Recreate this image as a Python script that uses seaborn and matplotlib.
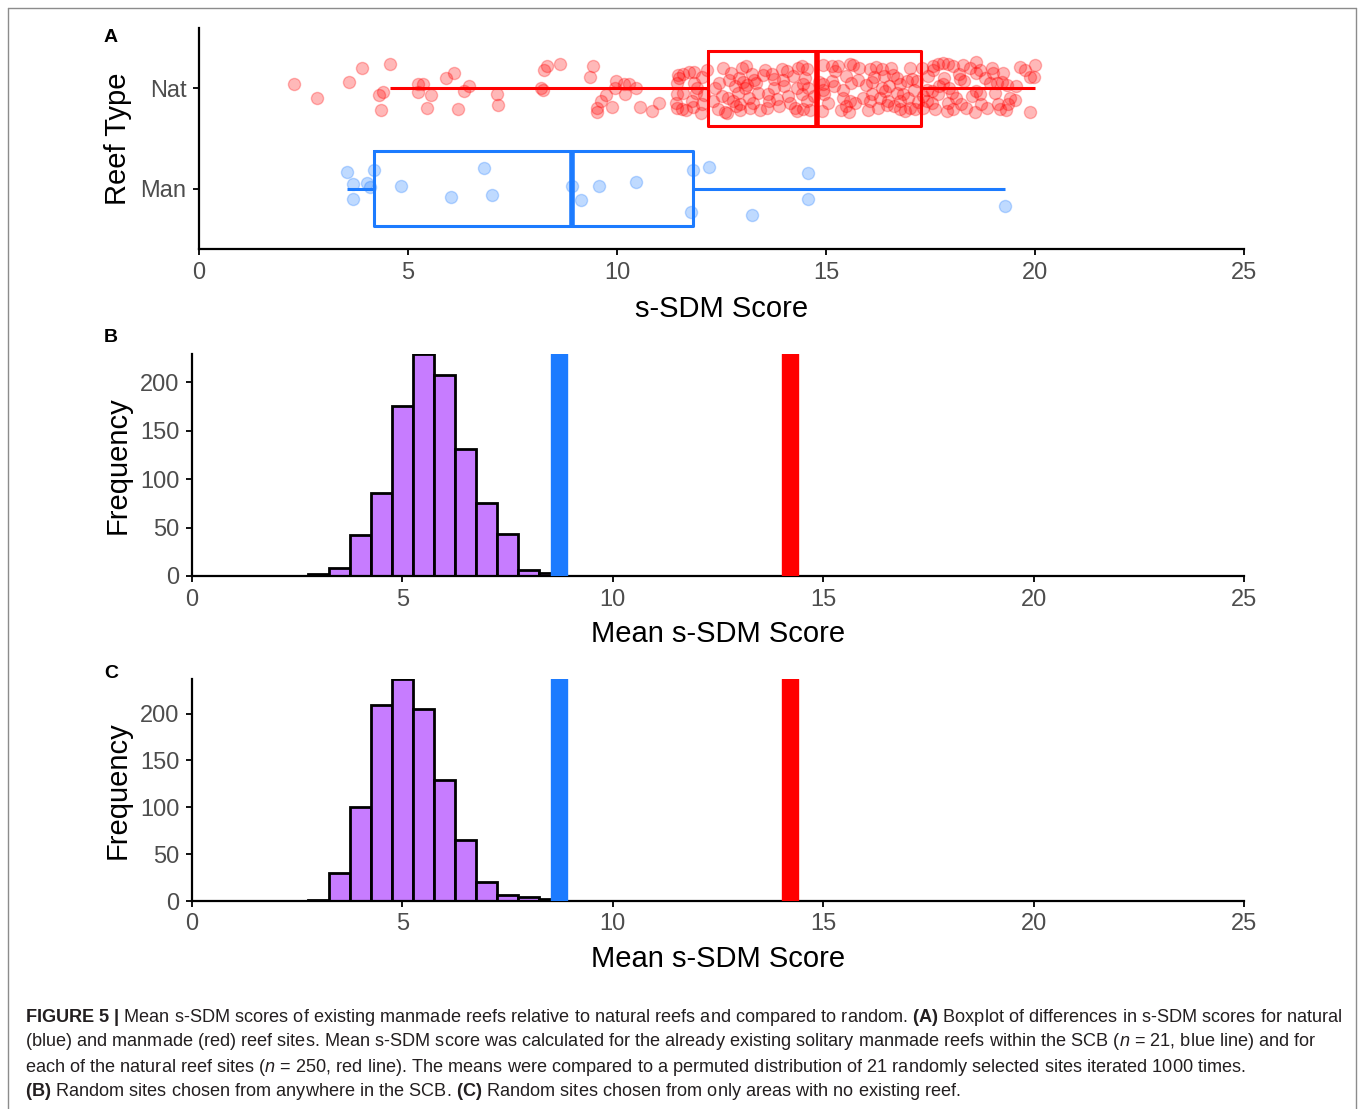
import numpy as np
import pandas as pd
import matplotlib
matplotlib.use("Agg")
import matplotlib.pyplot as plt
import seaborn as sns
from matplotlib.lines import Line2D

# ---------------- data ----------------
# Panel A: manmade reefs (n = 21): s-SDM score and vertical jitter offset
man_scores = [3.55, 4.19, 3.68, 4.02, 4.09, 3.68, 4.84, 6.81, 6.02, 7.00, 8.93,
              9.13, 9.56, 10.46, 11.82, 12.20, 11.76, 13.23, 14.58, 14.57, 19.29]
man_jitter = [-0.17, -0.19, -0.05, -0.06, -0.02, 0.10, -0.03, -0.21, 0.08, 0.06, -0.03,
              0.11, -0.03, -0.07, -0.19, -0.22, 0.23, 0.26, -0.16, 0.10, 0.17]

# Panel A: natural reefs (n = 250): (score, jitter offset)
nat_points_low = [
    (2.27, -0.04), (2.83, 0.10), (3.59, -0.06), (3.91, -0.20), (4.58, -0.24), (4.40, 0.04),
    (4.30, 0.07), (4.35, 0.22), (5.23, -0.04), (5.37, -0.04), (5.25, 0.04), (5.55, 0.07),
    (5.45, 0.20), (5.91, -0.10), (6.11, -0.15), (6.47, -0.02), (6.35, 0.03), (6.20, 0.21),
    (7.14, 0.06), (7.16, 0.17), (8.18, 0.00), (8.22, 0.02), (8.26, -0.18), (8.33, -0.22),
    (8.64, -0.24), (9.42, -0.22), (9.35, -0.11), (9.98, -0.07), (9.95, 0.00), (9.74, 0.07),
    (9.62, 0.13), (9.51, 0.20), (9.53, 0.24), (9.87, 0.19), (10.17, -0.04), (10.29, -0.04),
    (10.20, 0.06), (10.45, 0.00), (10.56, 0.19), (10.83, 0.23), (11.01, 0.15), (11.43, -0.05),
    (11.43, 0.06), (11.47, -0.13), (11.41, 0.15), (11.44, 0.20), (11.59, -0.14), (11.73, -0.16),
    (11.84, -0.16), (12.04, -0.11), (11.84, -0.05), (11.91, 0.00), (11.59, 0.05), (11.89, 0.05),
    (12.07, 0.07), (11.79, 0.13), (12.03, 0.16), (11.55, 0.21), (11.65, 0.22), (11.83, 0.19),
    (12.00, 0.25), (11.48, -0.10),
]
nat_points_q2 = [
    (12.54, -0.20), (13.09, -0.22), (12.67, -0.08), (12.93, -0.10), (13.01, -0.06), (13.22, -0.14),
    (13.49, -0.13), (13.70, -0.14), (13.94, -0.19), (14.06, -0.17), (13.76, -0.09), (13.98, -0.08),
    (13.33, -0.05), (12.34, 0.00), (12.82, -0.02), (13.10, -0.03), (12.90, 0.05), (12.66, 0.10),
    (12.30, 0.13), (12.78, 0.13), (12.94, 0.16), (13.26, 0.15), (13.62, 0.06), (13.64, 0.13),
    (13.82, 0.11), (14.14, 0.15), (12.42, 0.21), (12.58, 0.24), (12.62, 0.25), (12.94, 0.22),
    (13.18, 0.20), (13.42, 0.22), (13.06, 0.00), (14.34, -0.20), (14.30, 0.00), (14.31, 0.23),
    (14.42, -0.22), (14.54, -0.19), (14.46, -0.04), (14.58, 0.00), (14.42, 0.06), (14.55, 0.13),
    (14.46, 0.21), (14.62, 0.22), (12.15, -0.18), (12.45, -0.05), (12.50, 0.08), (12.72, -0.15),
    (12.85, 0.18), (13.00, -0.20), (13.15, 0.10), (13.28, -0.08), (13.38, 0.05), (13.55, -0.18),
    (13.60, 0.20), (13.75, 0.00), (13.88, 0.18), (14.00, -0.02), (14.10, 0.08), (14.20, -0.12),
    (14.25, 0.20), (14.50, -0.10), (14.72, 0.08),
]
nat_points_q3 = [
    (14.92, -0.23), (15.14, -0.22), (15.29, -0.22), (15.22, -0.17), (15.57, -0.24), (15.65, -0.23),
    (15.49, -0.12), (15.14, -0.07), (14.92, -0.04), (14.84, -0.06), (15.61, -0.05), (15.77, -0.08),
    (16.05, -0.19), (16.20, -0.21), (16.33, -0.19), (16.15, -0.11), (16.39, -0.12), (16.60, -0.13),
    (16.33, 0.00), (16.51, -0.02), (16.77, -0.04), (16.93, -0.07), (17.05, -0.09), (17.17, -0.07),
    (15.41, 0.02), (15.40, 0.10), (15.57, 0.13), (15.49, 0.18), (15.56, 0.24), (15.88, 0.10),
    (16.05, 0.13), (16.09, 0.06), (16.29, 0.10), (16.49, 0.13), (16.25, 0.20), (16.47, 0.17),
    (16.69, 0.05), (16.85, 0.06), (16.77, 0.21), (17.01, 0.20), (17.13, 0.21), (16.77, 0.13),
    (16.97, 0.10), (14.95, 0.06), (14.90, 0.23), (14.93, 0.02), (15.05, 0.15), (15.20, -0.02),
    (15.35, 0.22), (15.70, 0.15), (15.80, -0.20), (15.95, -0.03), (16.00, 0.22), (16.10, -0.06),
    (16.40, 0.03), (16.55, -0.20), (16.62, 0.18), (16.70, -0.10), (16.90, 0.23), (17.00, -0.20),
    (17.10, 0.02), (17.20, 0.14),
]
nat_points_high = [
    (17.57, -0.22), (17.69, -0.24), (17.79, -0.25), (17.93, -0.24), (18.05, -0.22), (18.27, -0.23),
    (18.60, -0.26), (18.96, -0.20), (19.24, -0.15), (19.64, -0.21), (20.00, -0.23), (17.57, -0.18),
    (18.19, -0.14), (18.29, -0.07), (18.60, -0.15), (18.68, -0.18), (17.82, -0.10), (17.81, -0.04),
    (18.21, -0.09), (18.92, -0.05), (19.08, -0.05), (19.20, -0.06), (19.34, -0.03), (19.88, -0.11),
    (19.98, -0.11), (17.41, 0.02), (17.53, 0.03), (17.33, 0.08), (17.69, 0.06), (18.01, 0.05),
    (18.59, 0.03), (18.68, 0.06), (19.04, 0.05), (19.40, 0.10), (19.52, 0.12), (19.36, 0.16),
    (17.53, 0.15), (17.41, 0.13), (17.93, 0.15), (17.89, 0.23), (18.05, 0.21), (18.22, 0.16),
    (18.72, 0.16), (18.56, 0.24), (19.12, 0.16), (19.16, 0.21), (19.88, 0.24), (17.33, 0.20),
    (17.61, 0.21), (17.30, -0.20), (17.45, -0.12), (17.70, -0.02), (17.95, 0.00), (18.10, 0.10),
    (18.35, 0.20), (18.45, -0.20), (18.50, 0.08), (18.80, -0.10), (18.85, 0.20), (19.00, -0.15),
    (19.30, 0.22), (19.55, -0.02), (19.75, -0.18),
]
nat_points = nat_points_low + nat_points_q2 + nat_points_q3 + nat_points_high
nat_scores = [p[0] for p in nat_points]
nat_jitter = [p[1] for p in nat_points]

reef_types = ["Nat", "Man"]

# Panels B and C: permutation histograms (bin centres, bin width 0.5)
hist_bin_centers = [3.0, 3.5, 4.0, 4.5, 5.0, 5.5, 6.0, 6.5, 7.0, 7.5, 8.0, 8.5]
hist_b_counts = [2, 8, 42, 86, 175, 229, 207, 131, 75, 43, 6, 3]
hist_c_counts = [1, 30, 100, 209, 237, 205, 129, 65, 20, 6, 4, 2]
man_mean = 8.73
nat_mean = 14.22

x_ticks = [0, 5, 10, 15, 20, 25]
freq_ticks = [0, 50, 100, 150, 200]

# ---------------- style ----------------
RED = "#FF0000"
BLUE = "#1C7BFF"
PURPLE = "#C77CFF"
TICK_GRAY = "#4D4D4D"

sns.set_theme(style="white")
plt.rcParams["font.family"] = ["Liberation Sans", "DejaVu Sans"]
plt.rcParams["mathtext.fontset"] = "custom"
plt.rcParams["mathtext.rm"] = "Liberation Sans"
plt.rcParams["mathtext.it"] = "Liberation Sans:italic"
plt.rcParams["mathtext.bf"] = "Liberation Sans:bold"

W, H = 1358, 1109
fig = plt.figure(figsize=(W / 100, H / 100), dpi=100)
fig.patch.set_facecolor("white")


def rect(l, t, r, b):
    return [l / W, 1 - b / H, (r - l) / W, (b - t) / H]


axA = fig.add_axes(rect(199, 28, 1244, 249))
axB = fig.add_axes(rect(192, 354, 1244, 576))
axC = fig.add_axes(rect(192, 679, 1244, 901))

TICK_FS = 17
LABEL_FS = 21


def style_axes(ax):
    for s in ["top", "right"]:
        ax.spines[s].set_visible(False)
    for s in ["left", "bottom"]:
        ax.spines[s].set_color("black")
        ax.spines[s].set_linewidth(1.6)
    ax.tick_params(axis="both", which="both", length=4, width=1.3, color="black",
                   labelsize=TICK_FS, labelcolor=TICK_GRAY, pad=5,
                   bottom=True, left=True)
    ax.grid(False)


# ---------------- Panel A ----------------
dfA = pd.DataFrame({
    "score": nat_scores + man_scores,
    "type": ["Nat"] * len(nat_scores) + ["Man"] * len(man_scores),
})
sns.boxplot(data=dfA, x="score", y="type", order=reef_types, hue="type",
            hue_order=reef_types, palette={"Nat": RED, "Man": BLUE},
            fill=False, width=0.75, linewidth=2.2, whis=1.5,
            showfliers=False, showcaps=False,
            medianprops={"linewidth": 4.0}, legend=False, ax=axA)

axA.scatter(nat_scores, [0 + j for j in nat_jitter], s=76, color=RED, alpha=0.28,
            linewidths=1.0, zorder=3)
axA.scatter(man_scores, [1 + j for j in man_jitter], s=76, color=BLUE, alpha=0.28,
            linewidths=1.0, zorder=3)

axA.set_xlim(0, 25)
axA.set_ylim(1.6, -0.6)
axA.set_xticks(x_ticks)
axA.set_yticks([0, 1])
axA.set_yticklabels(reef_types)
axA.set_xlabel("s-SDM Score", fontsize=LABEL_FS, color="black", labelpad=8)
axA.set_ylabel("Reef Type", fontsize=LABEL_FS, color="black", labelpad=6)
style_axes(axA)

# ---------------- Panels B and C ----------------
for ax, counts, ymax in [(axB, hist_b_counts, 229), (axC, hist_c_counts, 237)]:
    sns.histplot(x=hist_bin_centers, weights=counts, binwidth=0.5,
                 binrange=(hist_bin_centers[0] - 0.25, hist_bin_centers[-1] + 0.25),
                 color=PURPLE, alpha=1.0, edgecolor="black", linewidth=2.0, ax=ax)
    ax.axvline(man_mean, color=BLUE, linewidth=12.5, zorder=4)
    ax.axvline(nat_mean, color=RED, linewidth=12.5, zorder=4)
    ax.set_xlim(0, 25)
    ax.set_ylim(0, ymax)
    ax.set_xticks(x_ticks)
    ax.set_yticks(freq_ticks)
    ax.set_xlabel("Mean s-SDM Score", fontsize=LABEL_FS, color="black", labelpad=7)
    ax.set_ylabel("Frequency", fontsize=LABEL_FS, color="black", labelpad=6)
    style_axes(ax)

# panel letters
for letter, y in [("A", 37), ("B", 338), ("C", 673)]:
    fig.text(111 / W, 1 - y / H, letter, fontsize=14, fontweight="bold",
             ha="center", va="center", color="black")

# ---------------- caption ----------------
CAP_FS = 13.05
CAP_COLOR = "#231F20"
caption_lines = [
    r"$\mathbf{FIGURE\ 5\ |}$ Mean s-SDM scores of existing manmade reefs relative to natural reefs and compared to random. $\mathbf{(A)}$ Boxplot of differences in s-SDM scores for natural",
    r"(blue) and manmade (red) reef sites. Mean s-SDM score was calculated for the already existing solitary manmade reefs within the SCB ($\mathit{n}$ = 21, blue line) and for",
    r"each of the natural reef sites ($\mathit{n}$ = 250, red line). The means were compared to a permuted distribution of 21 randomly selected sites iterated 1000 times.",
    r"$\mathbf{(B)}$ Random sites chosen from anywhere in the SCB. $\mathbf{(C)}$ Random sites chosen from only areas with no existing reef.",
]
for line, y in zip(caption_lines, [1017, 1042, 1067, 1091]):
    fig.text(25 / W, 1 - y / H, line, fontsize=CAP_FS, color=CAP_COLOR,
             ha="left", va="center")

# frame around the figure
frame_kw = dict(color="#8C8C8C", linewidth=1.0, transform=fig.transFigure)
fig.add_artist(Line2D([8 / W, 8 / W], [0, 1 - 8 / H], **frame_kw))
fig.add_artist(Line2D([8 / W, 1356 / W], [1 - 8 / H, 1 - 8 / H], **frame_kw))
fig.add_artist(Line2D([1356 / W, 1356 / W], [0, 1 - 8 / H], **frame_kw))

fig.savefig("out.png", dpi=100, facecolor="white")
